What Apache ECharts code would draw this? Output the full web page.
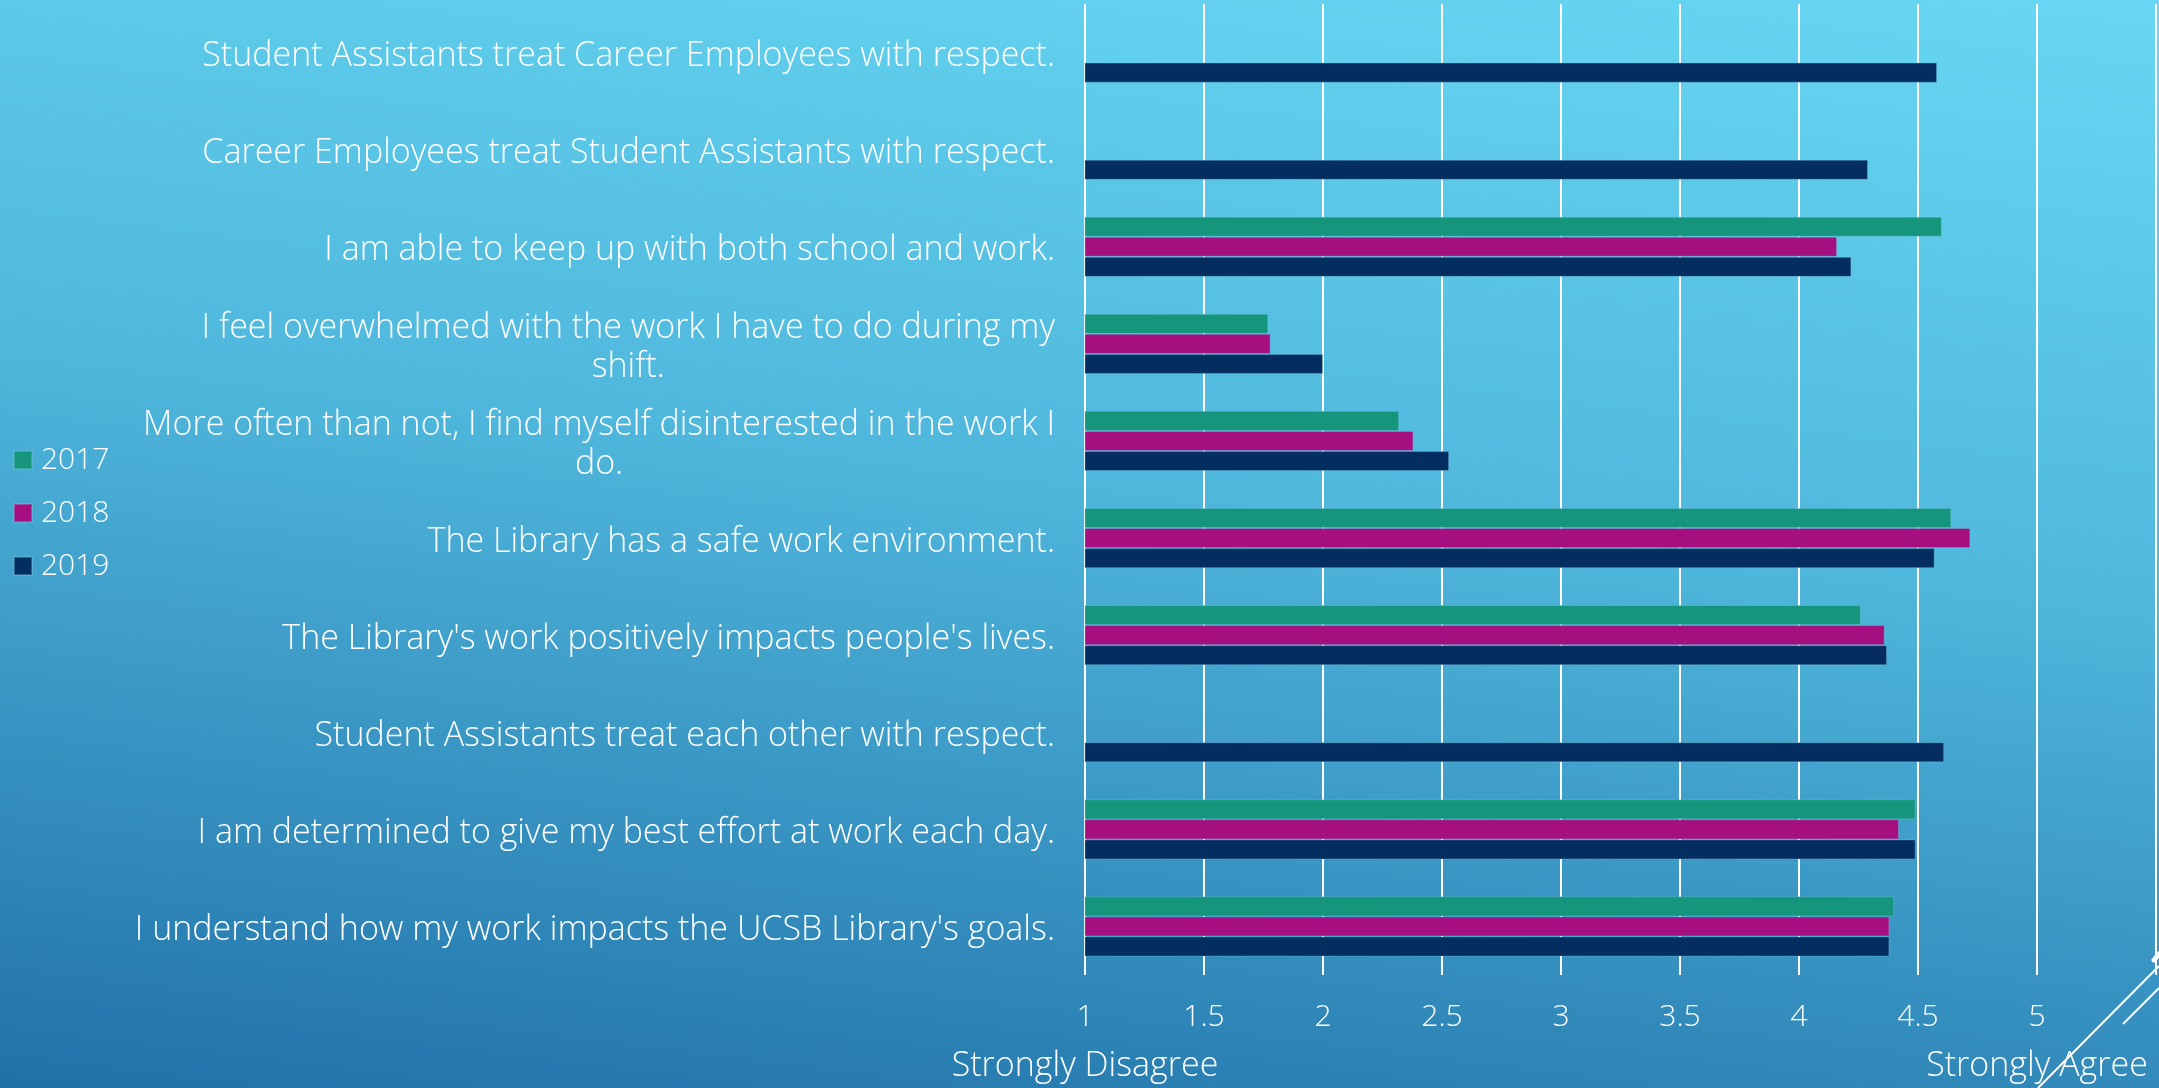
<!DOCTYPE html>
<html>
<head>
<meta charset="utf-8">
<script src="https://cdn.jsdelivr.net/npm/echarts@6/dist/echarts.min.js"></script>
<style>
  html, body { margin: 0; padding: 0; }
  body {
    width: 2159px; height: 1088px; overflow: hidden;
    background: linear-gradient(187deg, #67d7f3 0%, #4fb7dc 45%, #2171a8 100%);
  }
  #chart { width: 2159px; height: 1088px; }
</style>
</head>
<body>
<div id="chart"></div>
<script>
// survey statements, top to bottom
const categories = [
  'Student Assistants treat Career Employees with respect.',
  'Career Employees treat Student Assistants with respect.',
  'I am able to keep up with both school and work.',
  'I feel overwhelmed with the work I have to do during my shift.',
  'More often than not, I find myself disinterested in the work I do.',
  'The Library has a safe work environment.',
  'The Library\'s work positively impacts people\'s lives.',
  'Student Assistants treat each other with respect.',
  'I am determined to give my best effort at work each day.',
  'I understand how my work impacts the UCSB Library\'s goals.'
]
const years = ['2017', '2018', '2019']
const data2017 = [null, null, 4.60, 1.77, 2.32, 4.64, 4.26, null, 4.49, 4.40]
const data2018 = [null, null, 4.16, 1.78, 2.38, 4.72, 4.36, null, 4.42, 4.38]
const data2019 = [4.58, 4.29, 4.22, 2.00, 2.53, 4.57, 4.37, 4.61, 4.49, 4.38]
const scaleEnds = { 1: 'Strongly Disagree', 5: 'Strongly Agree' }

const colors = ['#15967c', '#a50f80', '#042d60']
const FONT = '"Open Sans", Lato, sans-serif'
const LABEL_SIZE = 34

// wrap long statements like the slide does
const ctx = document.createElement('canvas').getContext('2d')
ctx.font = '300 ' + LABEL_SIZE + 'px ' + FONT
function wrap(text, maxWidth) {
  if (ctx.measureText(text).width <= maxWidth) return [text]
  const words = text.split(' ')
  const lines = []
  let cur = ''
  words.forEach(w => {
    const test = cur ? cur + ' ' + w : w
    if (ctx.measureText(test).width > maxWidth && cur) {
      lines.push(cur)
      cur = w
    } else {
      cur = test
    }
  })
  if (cur) lines.push(cur)
  return lines
}

const chart = echarts.init(document.getElementById('chart'), null, { renderer: 'canvas' })

const seriesData = [data2017, data2018, data2019]
const series = years.map((y, i) => ({
  name: y,
  type: 'bar',
  data: seriesData[i],
  barGap: '0%',
  barCategoryGap: '38%',
  itemStyle: { color: colors[i], borderColor: 'rgba(120,200,230,0.35)', borderWidth: 1 }
}))

chart.setOption({
  backgroundColor: 'transparent',
  textStyle: { fontFamily: FONT },
  animation: false,
  grid: { left: 1085, right: 1, top: 4, bottom: 113, containLabel: false },
  legend: {
    orient: 'vertical',
    left: 8,
    top: 440,
    icon: 'rect',
    itemWidth: 18,
    itemHeight: 18,
    itemGap: 23,
    data: years,
    textStyle: { color: '#fff', fontSize: 30, fontWeight: 300, lineHeight: 30, padding: [0, 0, 0, 4] }
  },
  xAxis: [{
    type: 'value',
    min: 1,
    max: 5.5,
    interval: 0.5,
    position: 'bottom',
    axisLine: { show: false },
    axisTick: { show: false },
    splitLine: { show: true, lineStyle: { color: '#ffffff', width: 2 } },
    axisLabel: {
      color: '#fff', fontSize: 30, fontWeight: 300, margin: 27,
      formatter: v => (v > 5 ? '' : String(v))
    }
  }, {
    type: 'value',
    min: 1,
    max: 5.5,
    interval: 0.5,
    position: 'bottom',
    axisLine: { show: false },
    axisTick: { show: false },
    splitLine: { show: false },
    axisLabel: {
      color: '#fff', fontSize: 34, fontWeight: 300, margin: 74,
      formatter: v => scaleEnds[v] || ''
    }
  }],
  yAxis: {
    type: 'category',
    inverse: true,
    data: categories,
    axisLine: { show: false },
    axisTick: { show: false },
    axisLabel: {
      margin: 30,
      color: '#fff',
      padding: [8, 0, 0, 0],
      formatter: v => wrap(v, 927).map(l => '{c|' + l + '}').join('\n'),
      rich: {
        c: { align: 'center', color: '#fff', fontSize: LABEL_SIZE, fontWeight: 300, fontFamily: FONT, lineHeight: 39 }
      }
    }
  },
  graphic: [
    { type: 'line', shape: { x1: 2038, y1: 1088, x2: 2159, y2: 966 }, style: { stroke: '#fff', lineWidth: 2 } },
    { type: 'line', shape: { x1: 2123, y1: 1024, x2: 2159, y2: 988 }, style: { stroke: '#fff', lineWidth: 2 } },
    { type: 'line', shape: { x1: 2154, y1: 960, x2: 2159, y2: 954 }, style: { stroke: '#fff', lineWidth: 5, lineCap: 'round' } }
  ],
  series: series
})
</script>
</body>
</html>
